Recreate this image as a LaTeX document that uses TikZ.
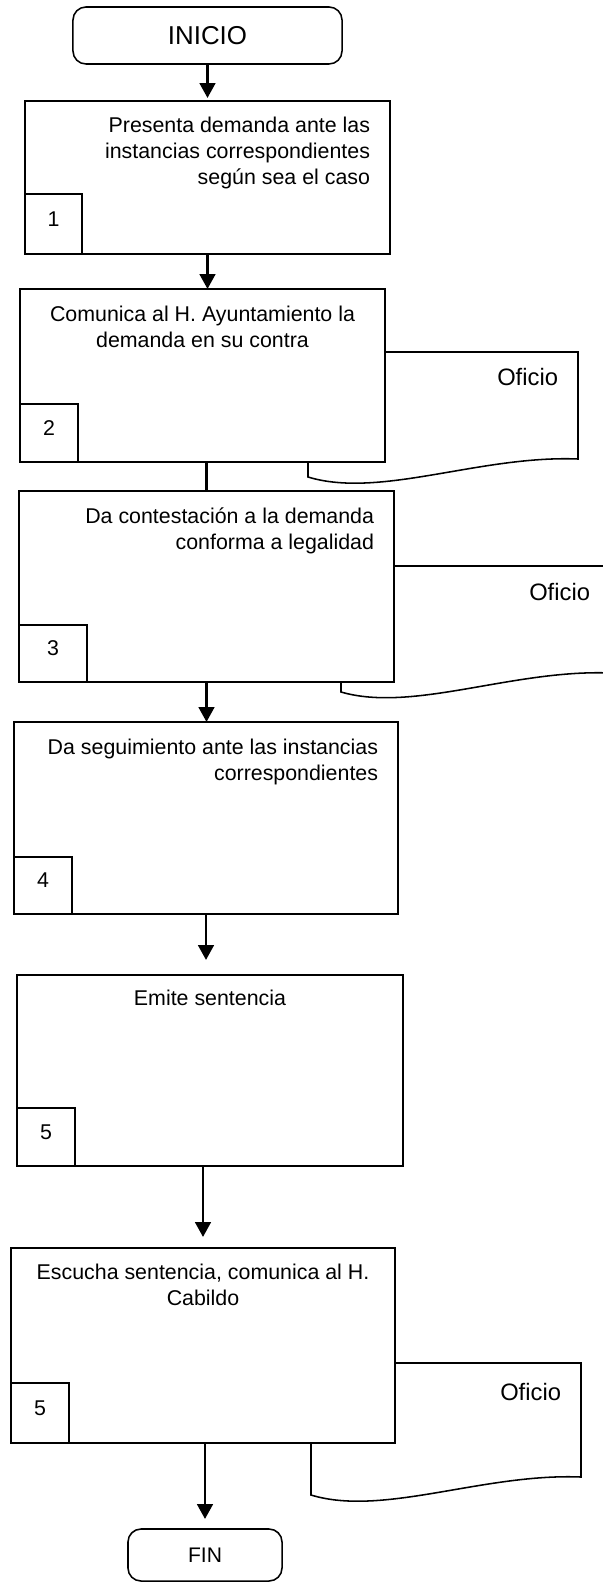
\documentclass[tikz,border=0pt]{standalone}
\usepackage{fontspec}
\setmainfont{Liberation Sans}
\usetikzlibrary{arrows.meta,positioning}

\begin{document}
\begin{tikzpicture}[x=0.025cm,y=-0.025cm,
    every node/.style={inner sep=0pt,outer sep=0pt},
    caja/.style={draw,line width=1.1pt,fill=white},
    num/.style={caja,anchor=south west,text depth=0.25cm,font=\fontsize{15.2pt}{18.5pt}\selectfont},
    texto/.style={font=\fontsize{15.2pt}{18.5pt}\selectfont},
    oficio/.style={anchor=north east,font=\fontsize{16.9pt}{20pt}\selectfont},
    doc/.style={draw,line width=1.1pt,fill=white},
    flecha/.style={line width=1.9pt,-{Triangle[width=11pt,length=10.5pt]}},
    linea/.style={line width=1.9pt}]
  \path[use as bounding box] (0,0) rectangle (603,1582);
  \clip (0,0) rectangle (603,1582);

  % documentos
  \draw[doc] (308,352) -- (578,352) coordinate (d1) -- (578,459)
    .. controls (480,455) and (380,499) .. (308,477) -- cycle;
  \node[oficio] (o1) at ([xshift=-0.5cm,yshift=-0.4cm]d1) {Oficio};
  \draw[doc] (341,566) -- (611,566) coordinate (d2) -- (611,673)
    .. controls (513,669) and (413,713) .. (341,692) -- cycle;
  \node[oficio] (o2) at ([xshift=-0.525cm,yshift=-0.425cm]d2) {Oficio};
  \draw[doc] (311,1363) -- (581,1363) coordinate (d3) -- (581,1477)
    .. controls (483,1473) and (383,1517) .. (311,1495) -- cycle;
  \node[oficio] (o3) at ([xshift=-0.5cm,yshift=-0.5cm]d3) {Oficio};

  \node[caja,rounded corners=0.325cm,minimum width=6.725cm,minimum height=1.425cm,
    font=\fontsize{18.4pt}{22pt}\selectfont] (inicio) at (207.5,35.5) {INICIO};

  \node[caja,minimum width=9.125cm,minimum height=3.825cm] (p1) at (207.5,177.5) {};
  \node[num,minimum width=1.425cm,minimum height=1.5cm] (n1) at (p1.south west) {1};
  \node[texto,anchor=north east,align=right] (t1) at ([xshift=-0.5cm,yshift=-0.4cm]p1.north east)
    {Presenta demanda ante las\\instancias correspondientes\\según sea el caso};

  \node[caja,minimum width=9.125cm,minimum height=4.325cm] (p2) at (202.5,375.5) {};
  \node[num,minimum width=1.45cm,minimum height=1.45cm] (n2) at (p2.south west) {2};
  \node[texto,anchor=north,align=center] (t2) at ([yshift=-0.425cm]p2.north)
    {Comunica al H. Ayuntamiento la\\demanda en su contra};

  \node[caja,minimum width=9.375cm,minimum height=4.775cm] (p3) at (206.5,586.5) {};
  \node[num,minimum width=1.7cm,minimum height=1.425cm] (n3) at (p3.south west) {3};
  \node[texto,anchor=north east,align=right] (t3) at ([xshift=-0.5cm,yshift=-0.425cm]p3.north east)
    {Da contestación a la demanda\\conforma a legalidad};

  \node[caja,minimum width=9.6cm,minimum height=4.8cm] (p4) at (206,818) {};
  \node[num,minimum width=1.45cm,minimum height=1.425cm] (n4) at (p4.south west) {4};
  \node[texto,anchor=north east,align=right] (t4) at ([xshift=-0.5cm,yshift=-0.425cm]p4.north east)
    {Da seguimiento ante las instancias\\correspondientes};

  \node[caja,minimum width=9.65cm,minimum height=4.775cm] (p5) at (210,1070.5) {};
  \node[num,minimum width=1.45cm,minimum height=1.45cm] (n5) at (p5.south west) {5};
  \node[texto,anchor=north] (t5) at ([yshift=-0.375cm]p5.north) {Emite sentencia};

  \node[caja,minimum width=9.6cm,minimum height=4.875cm] (p6) at (203,1345.5) {};
  \node[num,minimum width=1.45cm,minimum height=1.5cm] (n6) at (p6.south west) {5};
  \node[texto,anchor=north,align=center] (t6) at ([yshift=-0.4cm]p6.north)
    {Escucha sentencia, comunica al H.\\Cabildo};

  \node[caja,rounded corners=0.325cm,minimum width=3.85cm,minimum height=1.3cm,
    font=\fontsize{15pt}{18pt}\selectfont] (fin) at (205,1555) {FIN};

  % conectores
  \draw[flecha,shorten >=0.075cm] (inicio) -- (p1);
  \draw[flecha] (p1) -- (p1 |- p2.north);
  \draw[linea] (p3.north |- p2.south) -- (p3.north);
  \draw[flecha] (p3) -- (p3 |- p4.north);
  \draw[flecha,shorten >=0.375cm] (p4) -- (p4 |- p5.north);
  \draw[flecha,shorten >=0.275cm] (p6 |- p5.south) -- (p6.north);
  \draw[flecha,shorten >=0.25cm] (fin.north |- p6.south) -- (fin);
\end{tikzpicture}
\end{document}
